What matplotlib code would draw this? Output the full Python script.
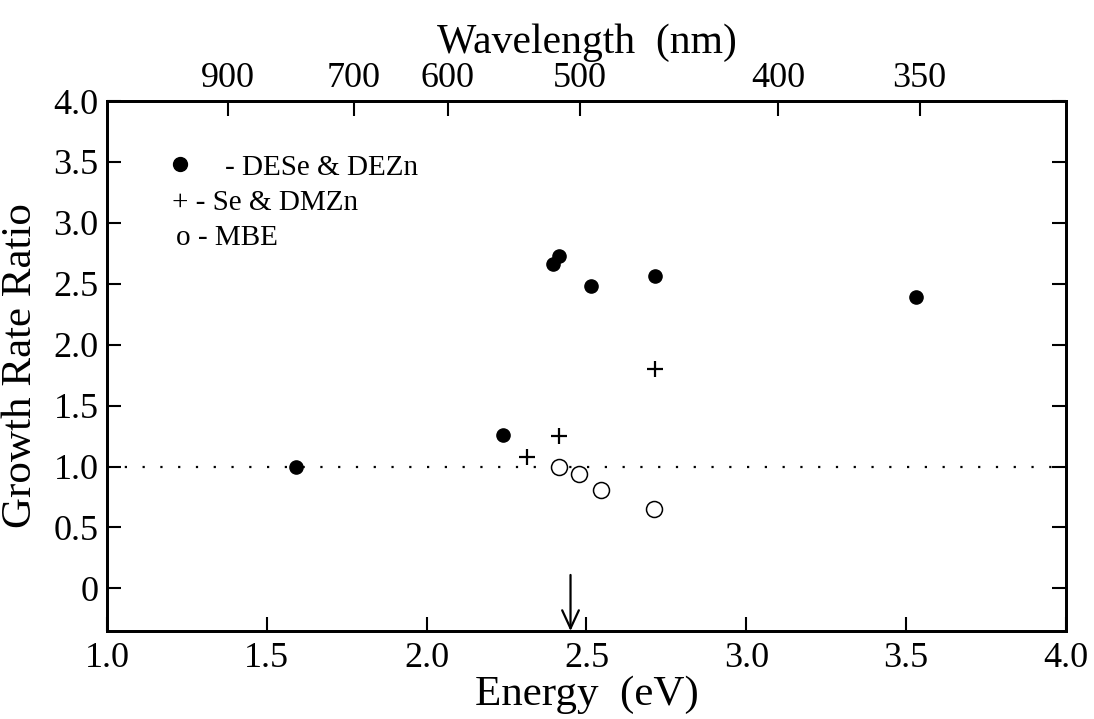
import matplotlib
matplotlib.use("Agg")
import matplotlib.pyplot as plt
import numpy as np

plt.rcParams['font.family'] = ['Liberation Serif', 'DejaVu Serif']

# DESe & DEZn (filled)
e_dese = [1.59, 2.24, 2.395, 2.415, 2.515, 2.715, 3.53]
r_dese = [1.00, 1.26, 2.66, 2.73, 2.48, 2.56, 2.39]
# Se & DMZn (plus)
e_se = [2.315, 2.415, 2.715]
r_se = [1.08, 1.25, 1.80]
# MBE (open)
e_mbe = [2.415, 2.475, 2.545, 2.712]
r_mbe = [1.00, 0.935, 0.81, 0.655]

wl_ticks = [900, 700, 600, 500, 400, 350]
x_ticks = [1.0, 1.5, 2.0, 2.5, 3.0, 3.5, 4.0]
y_ticks = [0, 0.5, 1.0, 1.5, 2.0, 2.5, 3.0, 3.5, 4.0]
y_labels = ['0', '0.5', '1.0', '1.5', '2.0', '2.5', '3.0', '3.5', '4.0']
arrow_e = 2.45

fig = plt.figure(figsize=(10.94, 7.19), dpi=100)
ax = fig.add_axes([107/1094, 1-631/719, (1066-107)/1094, (631-101)/719])

ax.axhline(1.0, color='black', linestyle=(0, (1, 7)), lw=1.6)
ax.plot(e_dese, r_dese, 'o', color='black', ms=9.5, ls='none')
ax.plot(e_se, r_se, '+', color='black', ms=12, mew=1.6, ls='none')
ax.plot(e_mbe, r_mbe, 'o', mfc='white', mec='black', ms=11.5, mew=1.1, ls='none')

ax.annotate('', xy=(arrow_e, -0.35), xytext=(arrow_e, 0.11),
            arrowprops=dict(arrowstyle='->,head_length=1.3,head_width=0.6', lw=1.6, color='black',
                            shrinkA=0, shrinkB=0))

ax.set_xlim(1.0, 4.0)
ax.set_ylim(-0.35, 4.0)
ax.set_xticks(x_ticks)
ax.set_xticklabels([f'{v:.1f}' for v in x_ticks])
ax.set_yticks(y_ticks)
ax.set_yticklabels(y_labels)
ax.tick_params(direction='in', length=10, width=1.5, labelsize=26, right=True, top=False)
ax.tick_params(axis='x', pad=8)
ax.tick_params(axis='y', pad=6)
for s in ax.spines.values():
    s.set_linewidth(2)

ax.set_xlabel('Energy  (eV)', fontsize=31, labelpad=0)
ax.set_ylabel('Growth Rate Ratio', fontsize=31, labelpad=10)

ax2 = ax.twiny()
ax2.set_xlim(ax.get_xlim())
ax2.set_xticks([1239.8 / w for w in wl_ticks])
ax2.set_xticklabels([str(w) for w in wl_ticks])
ax2.tick_params(direction='in', length=11, width=1.5, labelsize=26, pad=4)
ax2.set_xlabel('Wavelength  (nm)', fontsize=30, labelpad=7)
for s in ax2.spines.values():
    s.set_linewidth(2)

# legend written as text, like the original
ax.plot([0.0756], [0.881], 'o', color='black', ms=10, transform=ax.transAxes, clip_on=False)
ax.text(0.123, 0.860, '- DESe & DEZn', transform=ax.transAxes, fontsize=21, va='baseline')
ax.text(0.068, 0.794, '+ - Se & DMZn', transform=ax.transAxes, fontsize=21, va='baseline')
ax.text(0.072, 0.728, 'o - MBE', transform=ax.transAxes, fontsize=21, va='baseline')

fig.savefig('out.png', dpi=100)
